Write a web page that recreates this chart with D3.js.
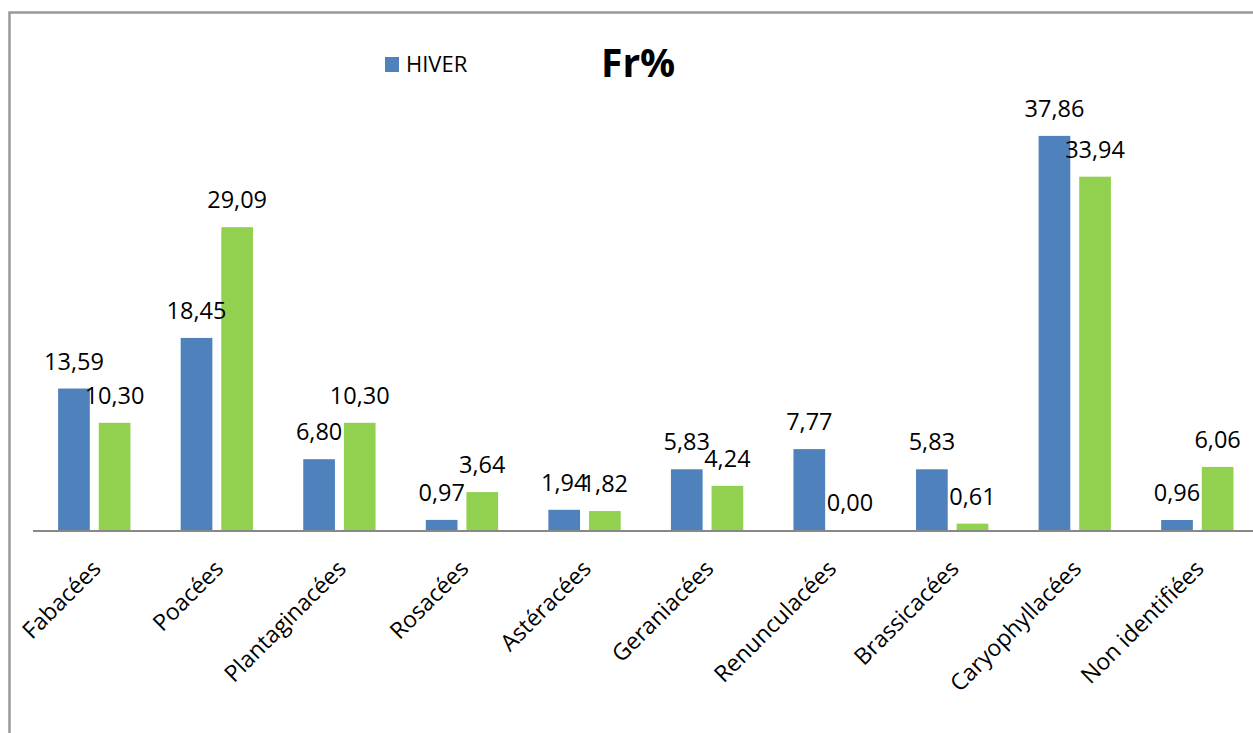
<!DOCTYPE html>
<html>
<head>
<meta charset="utf-8">
<script src="https://cdn.jsdelivr.net/npm/d3@7"></script>
<style>
  body { margin: 0; background: #fff; }
  text { font-family: "Open Sans", "Noto Sans", sans-serif; fill: #000; }
</style>
</head>
<body>
<div id="chart"></div>
<script>
var width = 1253;
var height = 733;

// data
var familles = ["Fabacées", "Poacées", "Plantaginacées", "Rosacées", "Astéracées",
                "Geraniacées", "Renunculacées", "Brassicacées", "Caryophyllacées", "Non identifiées"];
var hiver = [13.59, 18.45, 6.80, 0.97, 1.94, 5.83, 7.77, 5.83, 37.86, 0.96];
var autre = [10.30, 29.09, 10.30, 3.64, 1.82, 4.24, 0.00, 0.61, 33.94, 6.06];
var series = ["HIVER", "autre"];
var colors = ["#4F81BD", "#92D050"];

var svg = d3.select("#chart")
  .append("svg")
  .attr("width", width)
  .attr("height", height);

// frame (left + top)
svg.append("path")
  .attr("d", "M9.5," + height + " V12.5 H" + width)
  .attr("fill", "none")
  .attr("stroke", "#999")
  .attr("stroke-width", 2.5);

var x0 = d3.scaleBand()
  .domain(familles)
  .range([33, 33 + 122.56 * 10])
  .paddingInner(0.41)
  .paddingOuter(0.205);

var x1 = d3.scaleBand()
  .domain(series)
  .range([0, x0.bandwidth()])
  .paddingInner(0.22);

var y = d3.scaleLinear()
  .domain([0, 40])
  .range([530, 530 - 416.4]);

var rows = familles.map(function(f, i) {
  return { name: f, values: [hiver[i], autre[i]] };
});

var groups = svg.selectAll("g.grp")
  .data(rows)
  .enter()
  .append("g")
  .attr("class", "grp")
  .attr("transform", function(d) { return "translate(" + x0(d.name) + ",0)"; });

groups.selectAll("rect")
  .data(function(d) { return d.values; })
  .enter()
  .append("rect")
  .attr("x", function(d, i) { return x1(series[i]); })
  .attr("y", function(d) { return y(d); })
  .attr("width", x1.bandwidth())
  .attr("height", function(d) { return y(0) - y(d); })
  .attr("fill", function(d, i) { return colors[i]; });

groups.selectAll("text.val")
  .data(function(d) { return d.values; })
  .enter()
  .append("text")
  .attr("class", "val")
  .attr("x", function(d, i) { return x1(series[i]) + x1.bandwidth() / 2; })
  .attr("y", function(d) { return y(d) - 19; })
  .attr("text-anchor", "middle")
  .style("font-size", "23.5px")
  .text(function(d) { return d.toFixed(2).replace(".", ","); });

// baseline
svg.append("line")
  .attr("x1", 33).attr("x2", width)
  .attr("y1", y(0) + 1).attr("y2", y(0) + 1)
  .attr("stroke", "#888")
  .attr("stroke-width", 2);

// category labels
svg.selectAll("text.cat")
  .data(familles)
  .enter()
  .append("text")
  .attr("class", "cat")
  .attr("text-anchor", "end")
  .style("font-size", "23px")
  .attr("transform", function(d) {
    return "translate(" + (x0(d) + x0.bandwidth() / 2 + 8) + ",570) rotate(-45)";
  })
  .text(function(d) { return d; });

// legend
svg.append("rect")
  .attr("x", 385).attr("y", 57)
  .attr("width", 14).attr("height", 15)
  .attr("fill", colors[0]);
svg.append("text")
  .attr("x", 406).attr("y", 72)
  .style("font-size", "22px")
  .text("HIVER");

// title
svg.append("text")
  .attr("x", 601).attr("y", 77)
  .style("font-size", "39px")
  .style("font-weight", "bold")
  .text("Fr%");
</script>
</body>
</html>
